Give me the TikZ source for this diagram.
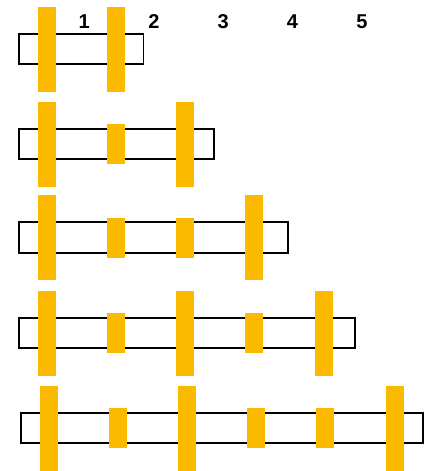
\documentclass[tikz,border=0pt]{standalone}
\usepackage{fontspec}
\setmainfont{Liberation Sans}
\usetikzlibrary{positioning}
\definecolor{cBar}{HTML}{FBBA00}
\tikzset{
  strip/.style={
    draw=black, fill=white, line width=1.8pt,
    minimum height=30.4pt, inner sep=0pt,
  },
  bar/.style={fill=cBar, minimum width=18pt, inner sep=0pt},
  tallbar/.style={bar, minimum height=85pt},
  shortbar/.style={bar, minimum height=40pt},
  numlabel/.style={font=\fontsize{20}{20}\selectfont\bfseries, inner sep=0pt},
}

\begin{document}
\begin{tikzpicture}[x=1pt, y=-1pt]
  \useasboundingbox (0,0) rectangle (425,471);

  % Column numbers
  \node[numlabel] (n1) at (84.3,21.5) {1};
  \node[numlabel] (n2) at (154,21.5) {2};
  \node[numlabel] (n3) at (223.3,21.5) {3};
  \node[numlabel] (n4) at (292.5,21.5) {4};
  \node[numlabel] (n5) at (362,21.5) {5};

  % Row 1
  \node[strip, minimum width=124.2pt] (s1) at (81.3,49) {};
  \node[tallbar] (b11) at (47,49) {};
  \node[tallbar] (b12) at (116,49) {};

  % Row 2
  \node[strip, minimum width=194.6pt] (s2) at (116.5,144) {};
  \node[tallbar] (b21) at (47,144) {};
  \node[shortbar] (b22) at (116,144) {};
  \node[tallbar] (b23) at (185,144) {};

  % Row 3
  \node[strip, minimum width=268.9pt] (s3) at (153.6,237.5) {};
  \node[tallbar] (b31) at (47,237.5) {};
  \node[shortbar] (b32) at (116,237.5) {};
  \node[shortbar] (b33) at (185,237.5) {};
  \node[tallbar] (b34) at (254,237.5) {};

  % Row 4
  \node[strip, minimum width=335.9pt] (s4) at (187.2,333) {};
  \node[tallbar] (b41) at (47,333) {};
  \node[shortbar] (b42) at (116,333) {};
  \node[tallbar] (b43) at (185,333) {};
  \node[shortbar] (b44) at (254,333) {};
  \node[tallbar] (b45) at (324,333) {};

  % Row 5
  \node[strip, minimum width=402.2pt] (s5) at (222,428) {};
  \node[tallbar] (b51) at (49,428.5) {};
  \node[shortbar] (b52) at (118,428) {};
  \node[tallbar] (b53) at (187,428.5) {};
  \node[shortbar] (b54) at (256,428) {};
  \node[shortbar] (b55) at (325,428) {};
  \node[tallbar] (b56) at (395,428.5) {};

\end{tikzpicture}
\end{document}
